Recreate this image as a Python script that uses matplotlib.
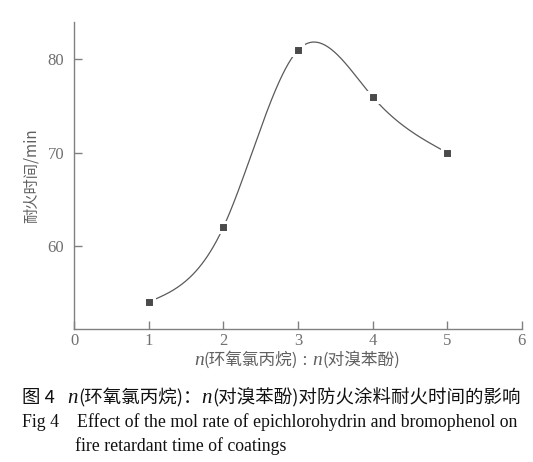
import numpy as np
import matplotlib
matplotlib.use('Agg')
import matplotlib.pyplot as plt
from matplotlib.offsetbox import TextArea, HPacker, AnchoredOffsetbox

# Daten
n_ratio = [1, 2, 3, 4, 5]
zeit = [54, 62, 81, 76, 70]
x_ticks = [0, 1, 2, 3, 4, 5, 6]
y_ticks = [60, 70, 80]

serif = ['Liberation Serif', 'DejaVu Serif']
cjk = ['Noto Sans CJK SC', 'DejaVu Sans']
grau = '#808080'


def spline(x, y, num=300):
    # natürlicher kubischer Spline durch die Messpunkte (nur für die Linie)
    x = np.asarray(x, float)
    y = np.asarray(y, float)
    n = len(x)
    h = np.diff(x)
    A = np.zeros((n, n))
    b = np.zeros(n)
    A[0, 0] = A[-1, -1] = 1
    for i in range(1, n - 1):
        A[i, i - 1] = h[i - 1]
        A[i, i] = 2 * (h[i - 1] + h[i])
        A[i, i + 1] = h[i]
        b[i] = 6 * ((y[i + 1] - y[i]) / h[i] - (y[i] - y[i - 1]) / h[i - 1])
    M = np.linalg.solve(A, b)
    xs = np.linspace(x[0], x[-1], num)
    k = np.clip(np.searchsorted(x, xs) - 1, 0, n - 2)
    t0 = xs - x[k]
    t1 = x[k + 1] - xs
    hk = h[k]
    ys = (M[k] * t1**3 + M[k + 1] * t0**3) / (6 * hk) \
        + (y[k] / hk - M[k] * hk / 6) * t1 + (y[k + 1] / hk - M[k + 1] * hk / 6) * t0
    return xs, ys


fig = plt.figure(figsize=(5.33, 4.62), dpi=100)
ax = fig.add_axes([0.139, 0.288, 0.840, 0.664])

xs, ys = spline(n_ratio, zeit)
ax.plot(xs, ys, color='#5a5a5a', linewidth=0.9, zorder=2)
ax.plot(n_ratio, zeit, linestyle='none', marker='s', markersize=7,
        markerfacecolor='#4a4a4a', markeredgecolor='white', markeredgewidth=2.2, zorder=3)

ax.set_xlim(0, 6)
ax.set_ylim(51.1, 84)
ax.set_xticks(x_ticks)
ax.set_yticks(y_ticks)
for s in ['top', 'right']:
    ax.spines[s].set_visible(False)
for s in ['left', 'bottom']:
    ax.spines[s].set_color(grau)
    ax.spines[s].set_linewidth(1.0)
ax.tick_params(direction='in', length=6, width=1, color=grau, labelcolor='#707070',
               labelsize=12)
ax.tick_params(axis='x', pad=3)
ax.tick_params(axis='y', pad=7)
for lab in ax.get_xticklabels() + ax.get_yticklabels():
    lab.set_family(serif)

ax.set_ylabel('耐火时间/min', family=cjk, fontsize=11, color='#606060', labelpad=6)


def zeile(teile, farbe, groesse):
    boxen = []
    for txt, fam, stil, gr in teile:
        boxen.append(TextArea(txt, textprops=dict(family=fam, style=stil, color=farbe,
                                                   fontsize=gr or groesse)))
    return HPacker(children=boxen, align='baseline', pad=0, sep=0)


# x-Beschriftung
xl = zeile([('n', serif, 'italic', 14), ('(环氧氯丙烷)', cjk, 'normal', None), (' : ', serif, 'normal', 13),
            ('n', serif, 'italic', 14), ('(对溴苯酚)', cjk, 'normal', None)], '#606060', 12)
fig.add_artist(AnchoredOffsetbox(loc='center', child=xl, pad=0, frameon=False,
                                 bbox_to_anchor=(297 / 533, 1 - 360 / 462),
                                 bbox_transform=fig.transFigure, borderpad=0))

# Bildunterschrift
z1 = zeile([('图 4   ', cjk, 'normal', None), ('n', serif, 'italic', 15), ('(环氧氯丙烷)：', cjk, 'normal', None),
            ('n', serif, 'italic', 15), ('(对溴苯酚)对防火涂料耐火时间的影响', cjk, 'normal', None)],
           '#111111', 13.3)
fig.add_artist(AnchoredOffsetbox(loc='center left', child=z1, pad=0, frameon=False,
                                 bbox_to_anchor=(22 / 533, 1 - 398 / 462),
                                 bbox_transform=fig.transFigure, borderpad=0))

z2 = zeile([('Fig 4    Effect of the mol rate of epichlorohydrin and bromophenol on', serif, 'normal', None)],
           '#111111', 12.8)
fig.add_artist(AnchoredOffsetbox(loc='center left', child=z2, pad=0, frameon=False,
                                 bbox_to_anchor=(22 / 533, 1 - 422 / 462),
                                 bbox_transform=fig.transFigure, borderpad=0))

z3 = zeile([('fire retardant time of coatings', serif, 'normal', None)], '#111111', 12.8)
fig.add_artist(AnchoredOffsetbox(loc='center left', child=z3, pad=0, frameon=False,
                                 bbox_to_anchor=(75 / 533, 1 - 446 / 462),
                                 bbox_transform=fig.transFigure, borderpad=0))

fig.savefig('out.png', dpi=100)
